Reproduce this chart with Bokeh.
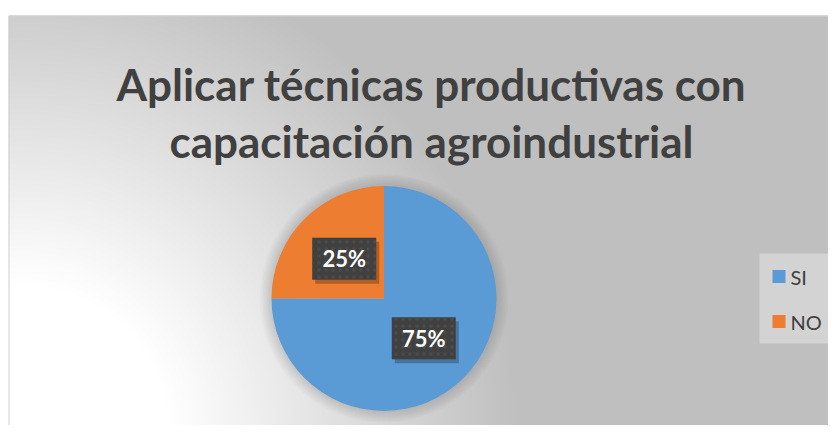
import numpy as np
from bokeh.plotting import figure
from bokeh.models import Range1d, Label, ColumnDataSource
from bokeh.core.properties import value
from bokeh.embed import file_html
from bokeh.resources import INLINE

# ---- data ----
categories = ["SI", "NO"]
values = [75, 25]
colors = ["#5B9BD5", "#ED7D31"]
title_lines = ["Aplicar técnicas productivas con", "capacitación agroindustrial"]

W, H = 828, 425
p = figure(width=W, height=H, output_backend="svg", toolbar_location=None,
           x_range=Range1d(0, W), y_range=Range1d(0, H),
           x_axis_type=None, y_axis_type=None, min_border=0,
           outline_line_color=None, background_fill_color="white",
           border_fill_color="white")
p.grid.visible = False

# ---- background gradient (chart area) ----
AX0, AH = 8, 410
AW = W - AX0
ys, xs = np.mgrid[0:AH, 0:AW]
d = np.sqrt((xs + AX0 + 0.5 - 20) ** 2 + (ys + 0.5 + 8) ** 2)
t = np.clip((d - 150) / 350.0, 0, 1)
v = (255 - 64 * t).astype(np.uint8)
img = np.empty((AH, AW), dtype=np.uint32)
view = img.view(dtype=np.uint8).reshape((AH, AW, 4))
view[..., 0] = v
view[..., 1] = v
view[..., 2] = v
view[..., 3] = 255
p.image_rgba(image=[img], x=AX0, y=0, dw=AW, dh=AH)
p.quad(left=AX0 + 0.5, right=W + 2, bottom=-2, top=AH - 0.5, fill_color=None,
       line_color="#CFCFCF", line_width=1)

# ---- pie geometry ----
cx, cy, r = 383.5, 127.0, 112.5
total = float(sum(values))
fracs = [v_ / total for v_ in values]
cum = np.cumsum([0] + fracs)
starts = [np.pi / 2 - cum[i + 1] * 2 * np.pi for i in range(len(values))]
ends = [np.pi / 2 - cum[i] * 2 * np.pi for i in range(len(values))]
mids = [(s + e) / 2 for s, e in zip(starts, ends)]

# soft shadow around pie
for k in range(1, 9):
    p.circle(x=[cx], y=[cy], radius=r + k * 1.5, fill_color="black",
             fill_alpha=0.017, line_color=None)

src = ColumnDataSource(dict(cat=categories, start=starts, end=ends, color=colors))
p.wedge(x=cx, y=cy, radius=r, start_angle="start", end_angle="end",
        fill_color="color", line_color=None, source=src)

# ---- data labels ----
lx = [cx + 0.5 * r * np.cos(m) for m in mids]
ly = [cy + 0.5 * r * np.sin(m) for m in mids]
labels = [f"{int(round(f * 100))}%" for f in fracs]
lsrc = ColumnDataSource(dict(x=lx, y=ly, sx=[a + 3 for a in lx], sy=[b - 4 for b in ly], text=labels))
p.rect(x="sx", y="sy", width=64, height=42, fill_color="black", fill_alpha=0.25,
       line_color=None, source=lsrc)
p.rect(x="x", y="y", width=64, height=42, fill_color="#404040", line_color=None,
       hatch_pattern="dot", hatch_color="#4b4b4b", hatch_scale=7, hatch_weight=2,
       source=lsrc)
p.text(x="x", y="y", text="text", text_align="center", text_baseline="middle",
       text_font=value("Lato"), text_font_style="bold", text_font_size="22px",
       text_color="white", source=lsrc)

# ---- title ----
for line, yb in zip(title_lines, [342, 285]):
    p.add_layout(Label(x=431, y=yb, text=line, text_align="center",
                       text_baseline="alphabetic", text_font="Lato",
                       text_font_style="bold", text_font_size="44px",
                       text_color="#404040"))

# ---- legend (drawn from the category arrays) ----
p.quad(left=759, right=W + 2, bottom=82, top=172, fill_color="#D3D3D3",
       line_color=None)
n = len(categories)
leg_y = [149 - 45 * i for i in range(n)]
legsrc = ColumnDataSource(dict(x=[778.5] * n, tx=[790] * n, y=leg_y,
                               color=colors, text=categories))
p.rect(x="x", y="y", width=13, height=13, fill_color="color", line_color=None,
       source=legsrc)
p.text(x="tx", y="y", text="text", text_align="left", text_baseline="middle",
       text_font=value("Lato"), text_font_size="20px", text_color="#404040",
       source=legsrc)

open("out.html", "w").write(file_html(p, INLINE))
